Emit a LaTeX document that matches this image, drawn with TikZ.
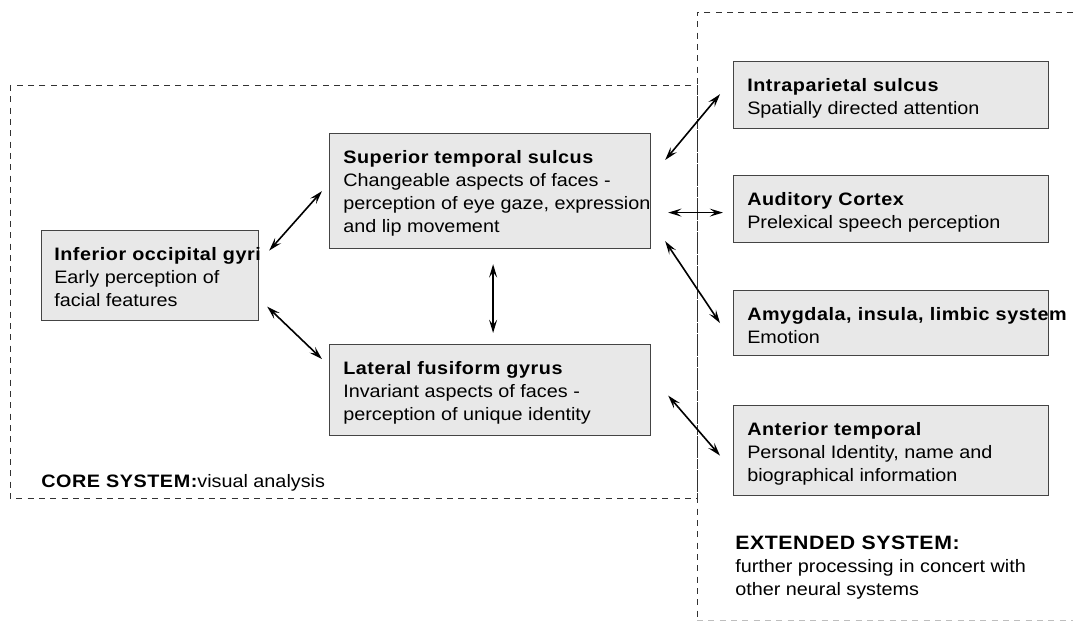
\documentclass[tikz,border=0pt]{standalone}
\usepackage{fontspec}
\setmainfont{Liberation Sans}[FakeStretch=1.1]
\newfontfamily\headfont{Liberation Sans}[FakeStretch=1.1,LetterSpace=3]
\usetikzlibrary{arrows.meta}

\begin{document}
\begin{tikzpicture}[x=0.75pt,y=0.75pt,yscale=-1,xscale=1,
  region/.style={draw={rgb, 255:red, 68; green, 68; blue, 68}, fill={rgb, 255:red, 232; green, 232; blue, 232}, line width=0.9pt, inner sep=0pt, anchor=north west},
  boxtext/.style={anchor=north west, inner sep=0pt, align=left, font=\fontsize{13.5}{17.25}\selectfont},
  link/.style={{Stealth[length=10pt,width=6pt,inset=4pt]}-{Stealth[length=10pt,width=6pt,inset=4pt]}, line width=1.2pt},
  frame/.style={draw={rgb, 255:red, 50; green, 50; blue, 50}, dash pattern={on 4.5pt off 4pt}, line width=0.7pt}]
\useasboundingbox (0,0) rectangle (1073,627);

%Dashed frames
\draw[frame] (10,85) rectangle (697,498);
\draw[frame] (1073,12) -- (697,12) -- (697,620);
\draw[frame, draw={rgb, 255:red, 190; green, 190; blue, 190}] (697,620) -- (1073,620);

%Shape: Rectangle - core system
\node[region, minimum width=162.75pt, minimum height=67.5pt] (iog) at (41,230) {};
\node[region, minimum width=240.75pt, minimum height=86.25pt] (sts) at (329,133) {};
\node[region, minimum width=240.75pt, minimum height=68.25pt] (lfg) at (329,344) {};
%Shape: Rectangle - extended system
\node[region, minimum width=236.25pt, minimum height=50.25pt] (ips) at (733,61) {};
\node[region, minimum width=236.25pt, minimum height=50.25pt] (aud) at (733,175) {};
\node[region, minimum width=236.25pt, minimum height=48.75pt] (amy) at (733,290) {};
\node[region, minimum width=236.25pt, minimum height=67.5pt] (ant) at (733,405) {};

% Text Node
\node[boxtext] (iogtext) at ([shift={(13,17)}]iog.north west) {{\headfont\bfseries Inferior occipital gyri}\\Early perception of\\facial features};
\node[boxtext] (ststext) at ([shift={(14,17)}]sts.north west) {{\headfont\bfseries Superior temporal sulcus}\\Changeable aspects of faces -\\perception of eye gaze, expression\\and lip movement};
\node[boxtext] (lfgtext) at ([shift={(14,17)}]lfg.north west) {{\headfont\bfseries Lateral fusiform gyrus}\\Invariant aspects of faces -\\perception of unique identity};
\node[boxtext] (ipstext) at ([shift={(14,17)}]ips.north west) {{\headfont\bfseries Intraparietal sulcus}\\Spatially directed attention};
\node[boxtext] (audtext) at ([shift={(14,17)}]aud.north west) {{\headfont\bfseries Auditory Cortex}\\Prelexical speech perception};
\node[boxtext] (amytext) at ([shift={(14,17)}]amy.north west) {{\headfont\bfseries Amygdala, insula, limbic system}\\Emotion};
\node[boxtext] (anttext) at ([shift={(14,17)}]ant.north west) {{\headfont\bfseries Anterior temporal}\\Personal Identity, name and\\biographical information};

% Text Node
\node[anchor=base west, inner sep=0pt, font=\fontsize{13.5}{17.25}\selectfont] (coretext) at (41,487) {{\headfont\bfseries CORE SYSTEM:}visual analysis};
\node[boxtext] (exttext) at (735,536) {{\headfont\bfseries\fontsize{14.5}{17.25}\selectfont EXTENDED SYSTEM:}\\further processing in concert with\\other neural systems};

%Arrows
\draw[link] ([shift={(10,-25)}]iog.east) -- ([shift={(-7,0)}]sts.west);
\draw[link] ([shift={(8,31)}]iog.east) -- ([shift={(-7,-31)}]lfg.west);
\draw[link] ([shift={(3,15)}]sts.south) -- ([shift={(3,-11)}]lfg.north);
\draw[link] ([shift={(14,27)}]sts.north east) -- ([shift={(-13,-35)}]ips.south west);
\draw[link] ([shift={(17,21.5)}]sts.east) -- ([shift={(-10,3.5)}]aud.west);
\draw[link] ([shift={(14,-8)}]sts.south east) -- ([shift={(-13,0)}]amy.west);
\draw[link] ([shift={(17,5.5)}]lfg.east) -- ([shift={(-13,5)}]ant.west);

\end{tikzpicture}
\end{document}
